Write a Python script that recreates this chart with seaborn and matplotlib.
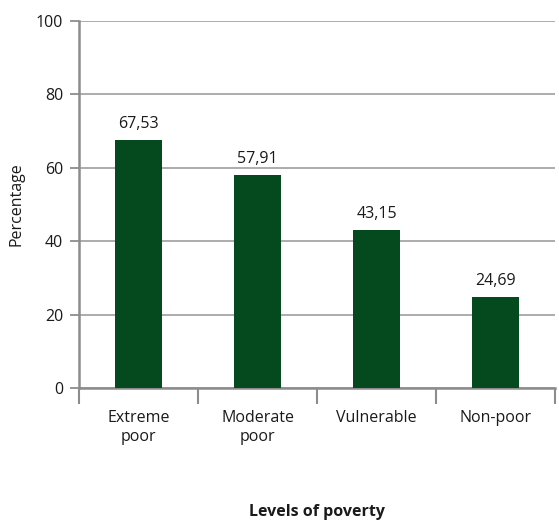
import matplotlib
matplotlib.use("Agg")
import matplotlib.pyplot as plt
import seaborn as sns
import pandas as pd
from matplotlib.ticker import FixedLocator

categories = ["Extreme\npoor", "Moderate\npoor", "Vulnerable", "Non-poor"]
values = [67.53, 57.91, 43.15, 24.69]
value_labels = ["67,53", "57,91", "43,15", "24,69"]
y_ticks = [0, 20, 40, 60, 80, 100]

df = pd.DataFrame({"level": categories, "pct": values})

sns.set_theme(style="white")
plt.rcParams["font.family"] = ["Open Sans", "DejaVu Sans"]

fig = plt.figure(figsize=(5.59, 5.2), dpi=100)
ax = fig.add_axes([0.1413, 0.2538, 0.8516, 0.7058])

green = "#054a1f"
axis_gray = "#8c8c8c"
text_col = "#1a1a1a"
fs = 11.5

sns.barplot(data=df, x="level", y="pct", color=green, width=0.4,
            saturation=1, ax=ax, zorder=3, linewidth=0, edgecolor=green)

ax.set_xlim(-0.5, 3.5)
ax.set_ylim(0, 100)
ax.set_yticks(y_ticks)
ax.yaxis.grid(True, color="#a6a6a6", linewidth=1.3, zorder=0)
ax.set_axisbelow(True)

for i, (v, lab) in enumerate(zip(values, value_labels)):
    ax.text(i, v + 2.2, lab, ha="center", va="bottom", fontsize=fs,
            color=text_col)

for side in ("top", "right"):
    ax.spines[side].set_visible(False)
for side in ("left", "bottom"):
    ax.spines[side].set_color(axis_gray)
    ax.spines[side].set_linewidth(1.8)

# category separators below the x axis
ax.xaxis.set_minor_locator(FixedLocator([-0.5, 0.5, 1.5, 2.5, 3.5]))
ax.tick_params(axis="x", which="minor", direction="out", length=11.5,
               width=1.5, color=axis_gray, bottom=True)
ax.tick_params(axis="x", which="major", length=0, pad=16,
               labelsize=fs, labelcolor=text_col)
ax.tick_params(axis="y", which="major", direction="out", length=6.5,
               width=1.3, color=axis_gray, left=True, pad=5,
               labelsize=fs, labelcolor=text_col)

ax.set_xlabel("Levels of poverty", fontsize=fs, fontweight="bold",
              color=text_col)
ax.xaxis.set_label_coords(0.5, -0.338)
ax.xaxis.label.set_verticalalignment("center")
ax.set_ylabel("Percentage", fontsize=fs, color=text_col, labelpad=8)

fig.savefig("out.png", dpi=100)
